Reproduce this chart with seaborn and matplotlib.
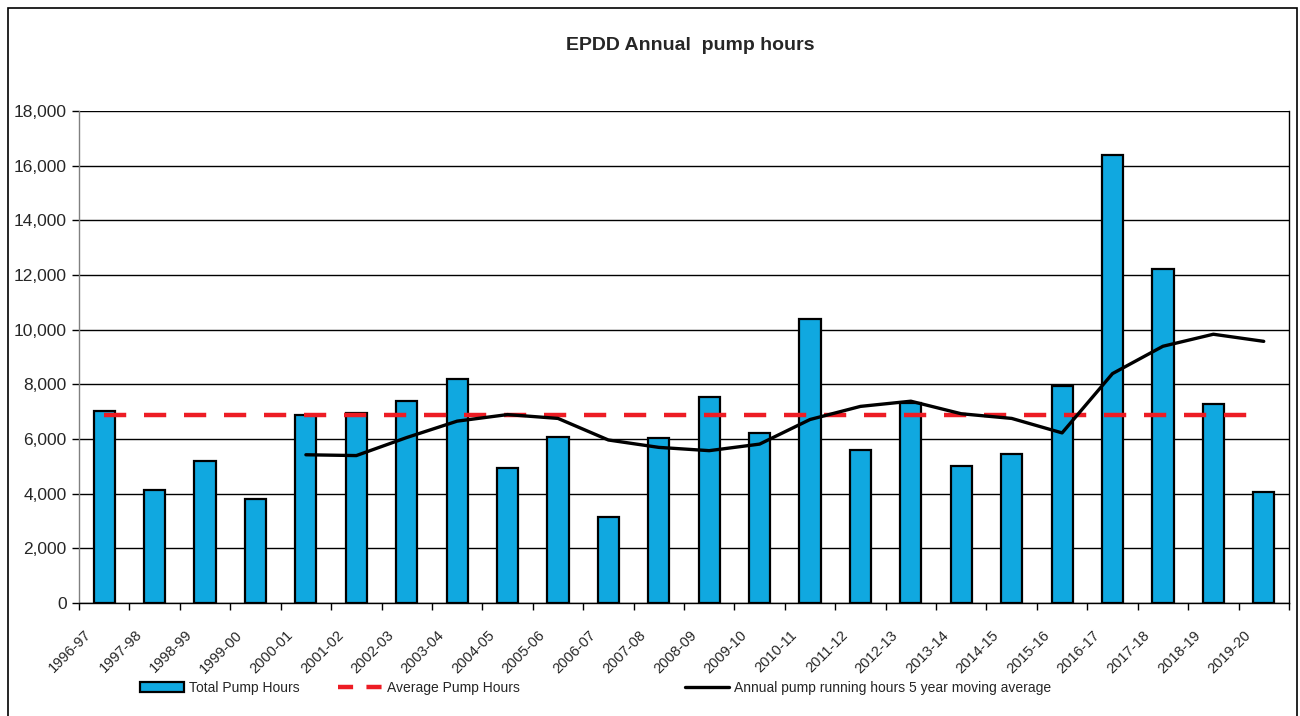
import numpy as np
import pandas as pd
import seaborn as sns
import matplotlib.pyplot as plt
from matplotlib.patches import Patch, Rectangle
from matplotlib.lines import Line2D
from matplotlib.ticker import FuncFormatter, MultipleLocator
from matplotlib.transforms import ScaledTranslation

seasons = ['1996-97', '1997-98', '1998-99', '1999-00', '2000-01', '2001-02',
           '2002-03', '2003-04', '2004-05', '2005-06', '2006-07', '2007-08',
           '2008-09', '2009-10', '2010-11', '2011-12', '2012-13', '2013-14',
           '2014-15', '2015-16', '2016-17', '2017-18', '2018-19', '2019-20']
total_hours = [7030, 4120, 5200, 3800, 6890, 6950, 7370, 8190, 4950, 6080,
               3160, 6020, 7530, 6200, 10400, 5610, 7300, 5020, 5430, 7930,
               16390, 12200, 7270, 4060]
moving_avg = [np.nan, np.nan, np.nan, np.nan, 5420, 5390, 6050, 6650, 6890,
              6750, 5960, 5690, 5570, 5810, 6710, 7190, 7380, 6920, 6750,
              6220, 8390, 9390, 9830, 9570]
average_hours = 6880

bar_color = '#10A8E0'
red = '#ED1C24'

sns.set_style("white")
plt.rcParams['font.family'] = ['Liberation Sans', 'DejaVu Sans']

df = pd.DataFrame({'season': seasons, 'hours': total_hours, 'ma': moving_avg})
df['pos'] = np.arange(len(df))

fig = plt.figure(figsize=(13, 7.16), dpi=100)
ax = fig.add_axes([0.0608, 0.158, 0.9307, 0.687])

# Bars
sns.barplot(data=df, x='season', y='hours', color=bar_color, width=0.42,
            edgecolor='black', linewidth=1.6, saturation=1, ax=ax, zorder=3)

# Average line across the categories
avg_df = pd.DataFrame({'pos': df['pos'], 'avg': average_hours})
sns.lineplot(data=avg_df, x='pos', y='avg', color=red, linewidth=3.2,
             ax=ax, zorder=4)
ax.lines[-1].set_dashes((5, 4))

# Moving average
sns.lineplot(data=df.dropna(), x='pos', y='ma', color='black', linewidth=2.4,
             ax=ax, zorder=5)

ax.set_xlim(-0.5, len(df) - 0.5)
ax.set_ylim(0, 18000)
ax.yaxis.set_major_locator(MultipleLocator(2000))
ax.yaxis.set_major_formatter(FuncFormatter(lambda v, p: f'{int(v):,}'))
ax.grid(axis='y', color='black', linewidth=1)
ax.set_axisbelow(True)
ax.set_xlabel('')
ax.set_ylabel('')

# Excel-like tick marks between categories
ax.set_xticks(np.arange(len(df)))
ax.set_xticklabels(seasons, rotation=45, ha='right', rotation_mode='anchor',
                   fontsize=10.5)
ax.set_xticks(np.arange(-0.5, len(df)), minor=True)
ax.tick_params(axis='x', which='major', length=0, pad=10)
ax.tick_params(axis='x', which='minor', length=5, width=1, color='black',
               direction='out', bottom=True)
ax.tick_params(axis='y', length=5, width=1, color='black', direction='out',
               left=True, labelsize=12.5, pad=4)
shift = ScaledTranslation(-20 / 100, -11 / 100, fig.dpi_scale_trans)
for lab in ax.get_xticklabels():
    lab.set_transform(lab.get_transform() + shift)

for side in ['left', 'bottom', 'right']:
    ax.spines[side].set_visible(True)
    ax.spines[side].set_color('black')
    ax.spines[side].set_linewidth(1)
ax.spines['left'].set_color('#808080')
ax.spines['top'].set_visible(False)

ax.set_title('EPDD Annual  pump hours', fontsize=14, fontweight='bold',
             pad=44, x=0.505)

# Legend entries placed like Excel's spread-out legend
entries = [
    (Patch(facecolor=bar_color, edgecolor='black', linewidth=1.6),
     'Total Pump Hours', 140),
    (Line2D([], [], color=red, linewidth=3.2, dashes=(3.4, 3)),
     'Average Pump Hours', 338),
    (Line2D([], [], color='black', linewidth=2.4),
     'Annual pump running hours 5 year moving average', 685),
]
for handle, label, xpix in entries:
    fig.legend([handle], [label], loc='center left',
               bbox_to_anchor=(xpix / 1300, 1 - 688 / 716), frameon=False,
               fontsize=10, handlelength=3.2, handletextpad=0.35,
               borderpad=0, borderaxespad=0)

# Chart border
fig.patches.append(Rectangle((8 / 1300, -0.01), 1289 / 1300, 1 - 8 / 716 + 0.01,
                             transform=fig.transFigure, fill=False,
                             edgecolor='black', linewidth=1.2))

fig.savefig('out.png', dpi=100)
